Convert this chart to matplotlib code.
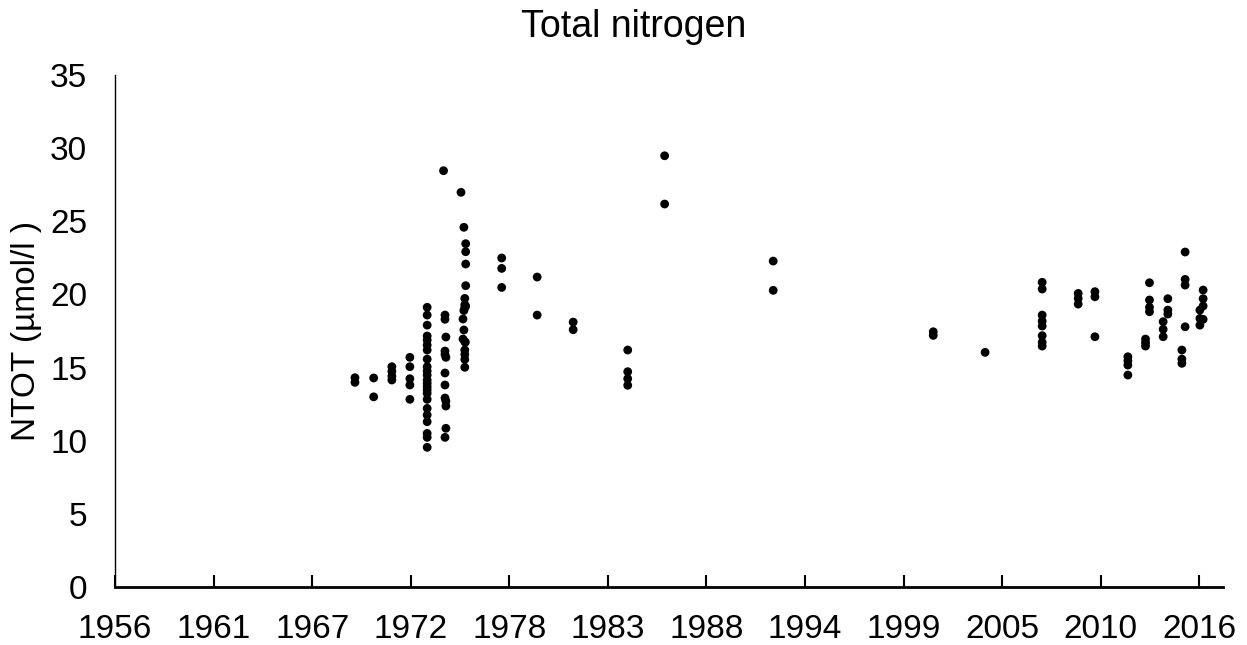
import numpy as np
import matplotlib
matplotlib.use("Agg")
import matplotlib.pyplot as plt

plt.rcParams.update({
    'font.family': ['Liberation Sans', 'DejaVu Sans'],
    'font.size': 24,
})

# sampling time (decimal year) and total nitrogen (umol/l)
years = [
    1969.45, 1969.45,
    1970.49, 1970.49,
    1971.5, 1971.5, 1971.5, 1971.5,
    1972.5, 1972.5, 1972.5, 1972.5, 1972.5,
    1973.46, 1973.46, 1973.46, 1973.46, 1973.46, 1973.46, 1973.46, 1973.46,
    1973.46, 1973.46, 1973.46, 1973.46, 1973.46, 1973.46, 1973.46, 1973.46,
    1973.46, 1973.46, 1973.46, 1973.46, 1973.46, 1973.46, 1973.46,
    1974.37,
    1974.45, 1974.45, 1974.45, 1974.45, 1974.45, 1974.45, 1974.45, 1974.45,
    1974.5, 1974.5, 1974.5, 1974.5, 1974.5,
    1975.34, 1975.5, 1975.6, 1975.6, 1975.6, 1975.6, 1975.55, 1975.6,
    1975.55, 1975.5, 1975.45, 1975.5, 1975.45, 1975.55, 1975.58, 1975.55,
    1975.55, 1975.55, 1975.55, 1975.55,
    1977.6, 1977.6, 1977.6,
    1979.57, 1979.57,
    1981.57, 1981.57,
    1984.6, 1984.6, 1984.6, 1984.6,
    1986.65, 1986.65,
    1992.68, 1992.68,
    2001.57, 2001.57,
    2004.45,
    2007.62, 2007.62, 2007.62, 2007.62, 2007.62, 2007.62, 2007.62, 2007.62,
    2009.62, 2009.62, 2009.62,
    2010.55, 2010.55, 2010.55,
    2012.38, 2012.38, 2012.38, 2012.38,
    2013.36, 2013.36, 2013.36,
    2013.58, 2013.58, 2013.58, 2013.58,
    2014.34, 2014.34, 2014.34,
    2014.6, 2014.6, 2014.6,
    2015.38, 2015.38, 2015.38,
    2015.56, 2015.56, 2015.56, 2015.56,
    2016.38, 2016.38, 2016.38,
    2016.56, 2016.56, 2016.56, 2016.56,
]
ntot = [
    14.31, 13.99,
    14.29, 13.0,
    15.06, 14.74, 14.42, 14.15,
    15.7, 15.06, 14.24, 13.81, 12.83,
    19.12, 18.59, 17.9, 17.16, 16.88, 16.54, 16.2, 15.58,
    15.06, 14.76, 14.49, 14.15, 13.92, 13.69, 13.47, 13.24,
    12.83, 12.21, 11.76, 11.30, 10.5, 10.23, 9.55,
    28.46,
    18.59, 18.3, 16.13, 15.9, 14.63, 13.81, 12.92, 10.23,
    17.09, 15.7, 12.71, 12.37, 10.85,
    26.98, 24.59, 23.47, 22.92, 22.08, 20.6, 19.73, 19.2,
    19.1, 18.9, 18.32, 17.57, 16.95, 16.77, 16.73, 16.2,
    15.9, 15.56, 15.02, 19.3,
    22.49, 21.78, 20.48,
    21.19, 18.59,
    18.11, 17.59,
    16.2, 14.72, 14.24, 13.79,
    29.48, 26.18,
    22.28, 20.28,
    17.45, 17.2,
    16.04,
    20.83, 20.37, 18.59, 18.18, 17.84, 17.18, 16.73, 16.47,
    20.07, 19.73, 19.34,
    20.19, 19.84, 17.11,
    15.74, 15.47, 15.17, 14.49,
    16.95, 16.7, 16.47,
    20.8, 19.62, 19.12, 18.82,
    18.14, 17.62, 17.11,
    19.71, 18.93, 18.66,
    16.2, 15.58, 15.29,
    22.9, 21.03, 20.64, 17.79,
    18.93, 18.36, 17.9,
    20.3, 19.71, 19.21, 18.3,
]

# date axis: major unit of 2000 days from the axis minimum
axis_start = 1956.12
step = 2000 / 365.25
tick_labels = ['1956', '1961', '1967', '1972', '1978', '1983',
               '1988', '1994', '1999', '2005', '2010', '2016']
tick_pos = [axis_start + i * step for i in range(len(tick_labels))]

fig = plt.figure(figsize=(12.47, 6.45), dpi=100)
ax = fig.add_axes([0.0922, 0.0899, 0.8886, 0.7938])

ax.scatter(years, ntot, s=40, color='black', edgecolors='none', zorder=3)

ax.set_xlim(axis_start, axis_start + 11.24 * step)
ax.set_ylim(0, 35)
ax.set_yticks(range(0, 36, 5))
ax.set_xticks(tick_pos)
ax.set_xticklabels(tick_labels)

ax.spines['top'].set_visible(False)
ax.spines['right'].set_visible(False)
ax.spines['left'].set_linewidth(1.0)
ax.spines['bottom'].set_linewidth(2.0)
ax.tick_params(axis='x', direction='in', length=9, width=1.5, pad=19.5)
ax.tick_params(axis='y', length=0, pad=20)

ax.set_ylabel('NTOT (µmol/l )', labelpad=6)
fig.text(0.508, 1 - 37.3 / 645, 'Total nitrogen', fontsize=27,
         ha='center', va='baseline')

fig.savefig('out.png', dpi=100)
